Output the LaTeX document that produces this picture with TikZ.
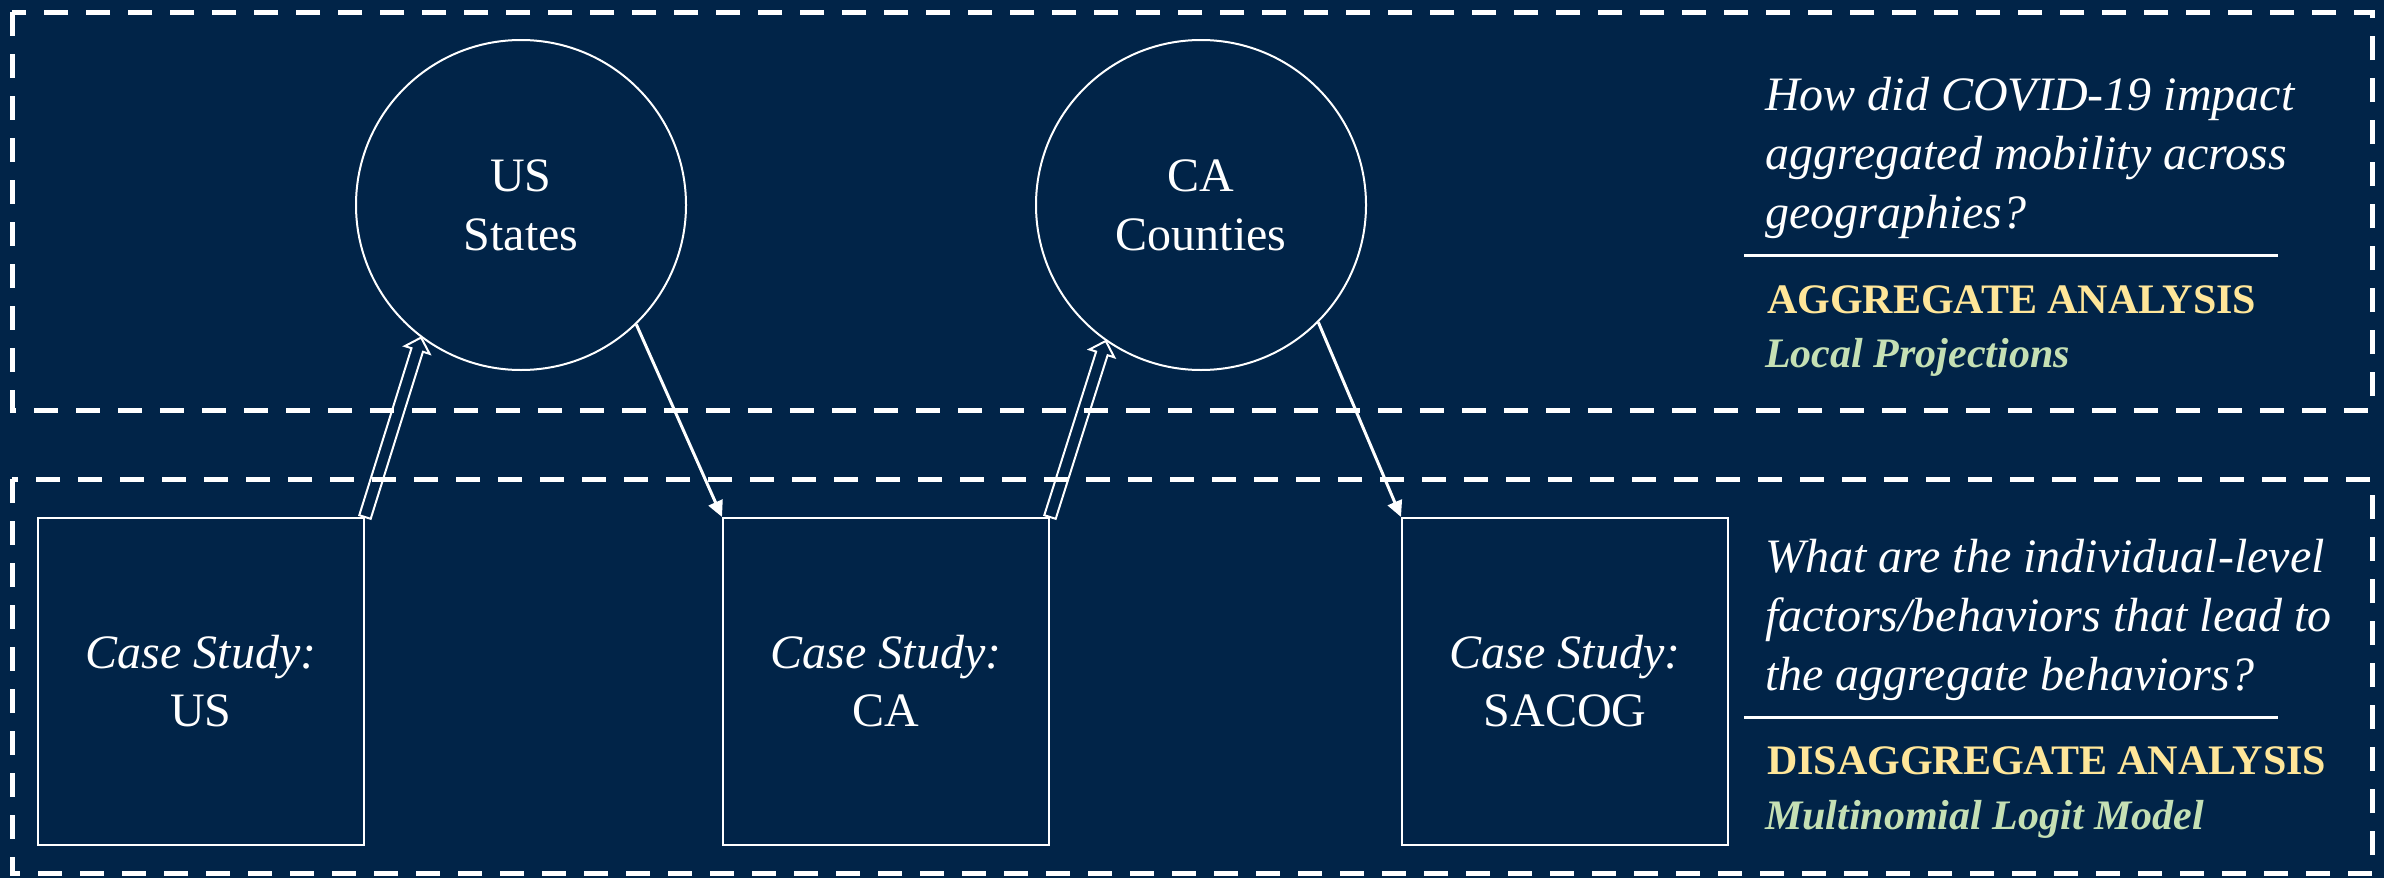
\documentclass[tikz,border=0pt]{standalone}
\usepackage{fontspec}
\setmainfont{Liberation Serif}
\usetikzlibrary{calc,arrows.meta}
\definecolor{bg}{HTML}{012448}
\definecolor{gold}{HTML}{FFE699}
\definecolor{sage}{HTML}{C5E0B4}
\newcommand\hollowarrow[2]{%
  \draw[hollow] let \p1=(#1), \p2=(#2), \n1={atan2(\y2-\y1,\x2-\x1)} in
    ($(\p1)+(\n1+90:6pt)$)
    -- ($(\p2)+(\n1+180:13pt)+(\n1+90:6pt)$)
    -- ($(\p2)+(\n1+180:13pt)+(\n1+90:13pt)$)
    -- (\p2)
    -- ($(\p2)+(\n1+180:13pt)+(\n1-90:13pt)$)
    -- ($(\p2)+(\n1+180:13pt)+(\n1-90:6pt)$)
    -- ($(\p1)+(\n1-90:6pt)$) -- cycle;}
\begin{document}
\begin{tikzpicture}[x=1pt,y=-1pt,
  frame/.style={draw=white, line width=5pt, dash pattern=on 24pt off 18pt},
  geo/.style={circle, draw=white, line width=2pt, minimum size=330pt, inner sep=0pt,
    align=center, text=white, font=\fontsize{48}{59}\selectfont},
  casebox/.style={rectangle, draw=white, line width=2pt, minimum width=326pt,
    minimum height=327pt, inner sep=0pt, align=center, text=white,
    font=\fontsize{48}{58}\selectfont},
  drill/.style={draw=white, line width=3pt, -{Triangle[length=16pt,width=15pt]}},
  hollow/.style={draw=white, line width=2pt, line join=miter},
  qline/.style={anchor=base west, text=white, inner sep=0pt,
    font=\fontsize{48}{59}\selectfont\itshape},
  method/.style={anchor=base west, text=gold, inner sep=0pt,
    font=\fontsize{42}{50}\selectfont\bfseries},
  model/.style={anchor=base west, text=sage, inner sep=0pt,
    font=\fontsize{42}{50}\selectfont\bfseries\itshape},
  rule/.style={draw=white, line width=3pt}]
\useasboundingbox (0,0) rectangle (2384,878);
\fill[bg] (0,0) rectangle (2384,878);

% dashed frames
\draw[frame] (12,12) rectangle (2372,410);
\draw[frame] (12,479) rectangle (2372,873);

% geography circles
\node[geo] (usc) at (521,205) {US\\States};
\node[geo] (cac) at (1201,205) {CA\\Counties};

% case study boxes
\node[casebox] (usbox) at (201,681.5) {\itshape Case Study:\\US};
\node[casebox] (cabox) at (886,681.5) {\itshape Case Study:\\CA};
\node[casebox] (sacbox) at (1565,681.5) {\itshape Case Study:\\SACOG};

% connectors
\hollowarrow{usbox.north east}{usc.233}
\hollowarrow{cabox.north east}{cac.235}
\draw[drill] (usc.-46) -- (cabox.north west);
\draw[drill] (cac.-45.5) -- (sacbox.north west);

% top text
\node[qline] (q1a) at (1765,110) {How did COVID-19 impact};
\node[qline] (q1b) at (1765,169) {aggregated mobility across};
\node[qline] (q1c) at (1765,228) {geographies?};
\coordinate (r1a) at (1744,255);
\coordinate (r1b) at (2278,255);
\draw[rule] (r1a) -- (r1b);
\node[method] (m1) at (1767,313) {AGGREGATE ANALYSIS};
\node[model] (k1) at (1765,367) {Local Projections};

% bottom text
\node[qline] (q2a) at (1765,572) {What are the individual-level};
\node[qline] (q2b) at (1765,631) {factors/behaviors that lead to};
\node[qline] (q2c) at (1765,690) {the aggregate behaviors?};
\coordinate (r2a) at (1744,717);
\coordinate (r2b) at (2278,717);
\draw[rule] (r2a) -- (r2b);
\node[method] (m2) at (1767,774) {DISAGGREGATE ANALYSIS};
\node[model] (k2) at (1765,829) {Multinomial Logit Model};
\end{tikzpicture}
\end{document}
